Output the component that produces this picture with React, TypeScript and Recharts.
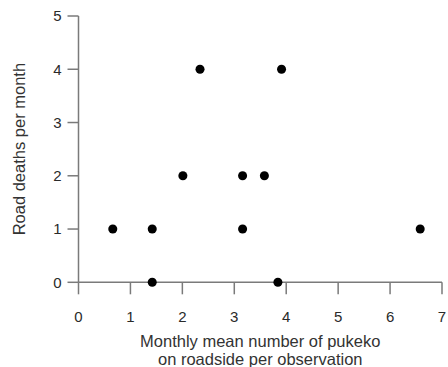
import React from "react";
import { ScatterChart, Scatter, XAxis, YAxis, ZAxis, Label } from "recharts";

const pukekoMeans = [0.66, 1.42, 1.42, 2.01, 2.34, 3.16, 3.16, 3.58, 3.91, 3.84, 6.58];
const roadDeaths = [1, 1, 0, 2, 4, 2, 1, 2, 4, 0, 1];
const xTicks = [0, 1, 2, 3, 4, 5, 6, 7];
const yTicks = [0, 1, 2, 3, 4, 5];
const xLabelLines = ["Monthly mean number of pukeko", "on roadside per observation"];
const yLabelText = "Road deaths per month";

const data = pukekoMeans.map((x, i) => ({ x, y: roadDeaths[i] }));

const FONT = "'Liberation Sans', Arial, sans-serif";
const AXIS = "#7a7a7a";

const XLabel = (props: any) => {
  const vb = props.viewBox || {};
  const cx = vb.x + vb.width / 2;
  const y = vb.y;
  return (
    <text textAnchor="middle" fontFamily={FONT} fontSize={16.5} fill="#333">
      <tspan x={cx} y={y + 64.5}>{xLabelLines[0]}</tspan>
      <tspan x={cx} y={y + 82.5}>{xLabelLines[1]}</tspan>
    </text>
  );
};

export default function App() {
  return (
    <div style={{ position: "absolute", left: 0, top: 0 }}>
      <ScatterChart
        width={448}
        height={367}
        margin={{ top: 16, right: 6, bottom: 0, left: 0 }}
      >
        <XAxis
          type="number"
          dataKey="x"
          domain={[0, 7]}
          ticks={xTicks}
          interval={0}
          height={84.7}
          tickSize={12}
          tickMargin={17}
          axisLine={{ stroke: AXIS, strokeWidth: 1.5 }}
          tickLine={{ stroke: AXIS, strokeWidth: 1.5 }}
          tick={{ fill: "#2a2a2a", fontSize: 15, fontFamily: FONT }}
        >
          <Label content={<XLabel />} />
        </XAxis>
        <YAxis
          type="number"
          dataKey="y"
          domain={[0, 5]}
          ticks={yTicks}
          interval={0}
          width={78.5}
          tickSize={11}
          tickMargin={6}
          axisLine={{ stroke: AXIS, strokeWidth: 1.5 }}
          tickLine={{ stroke: AXIS, strokeWidth: 1.5 }}
          tick={{ fill: "#2a2a2a", fontSize: 15, fontFamily: FONT }}
        >
          <Label
            value={yLabelText}
            angle={-90}
            position="insideLeft"
            offset={19}
            style={{ textAnchor: "middle", fontFamily: FONT, fontSize: 16.5, fill: "#333" }}
          />
        </YAxis>
        <ZAxis range={[72, 72]} />
        <Scatter data={data} fill="#000" isAnimationActive={false} />
      </ScatterChart>
    </div>
  );
}
